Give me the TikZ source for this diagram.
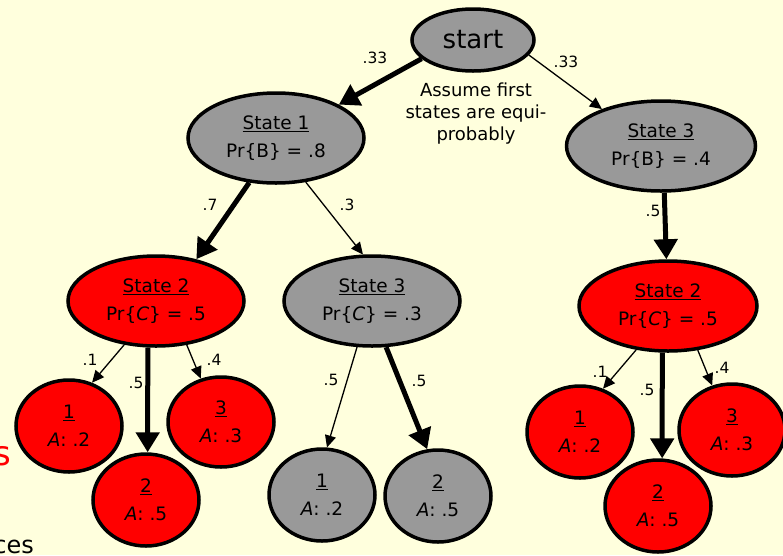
\documentclass[tikz,border=0pt]{standalone}
\usepackage{fontspec}
\setmainfont{DejaVu Sans}
\usetikzlibrary{arrows.meta,shapes.geometric}
\definecolor{bgc}{RGB}{255,255,221}
\definecolor{grayfill}{RGB}{153,153,153}
\definecolor{redfill}{RGB}{255,0,0}
\begin{document}
\begin{tikzpicture}[x=1pt,y=-1pt,
  ell/.style={ellipse,draw=black,line width=3.5pt,inner sep=0pt,align=center,
    font=\fontsize{18.5}{28}\selectfont},
  grey/.style={ell,fill=grayfill},
  redn/.style={ell,fill=redfill},
  bigstate/.style={minimum width=176pt,minimum height=90pt},
  leaf/.style={minimum width=106pt,minimum height=92pt},
  thickarr/.style={line width=5pt,-{Triangle[length=20pt,width=23pt]}},
  thinarr/.style={line width=1.3pt,-{Triangle[length=12pt,width=11pt]}},
  lbl/.style={font=\fontsize{15.5}{17}\selectfont,inner sep=0pt}]
\useasboundingbox (0,0) rectangle (783,555);
\clip (0,0) rectangle (783,555);
\fill[bgc] (0,0) rectangle (783,555);

% partial texts at the left edge
\node[anchor=base east,inner sep=0pt,text=redfill,font=\fontsize{34}{34}\selectfont] (redS) at (11,465) {s};
\node[anchor=base east,inner sep=0pt,font=\fontsize{24}{24}\selectfont] (ces) at (34,553) {ces};

% nodes
\node[grey,minimum width=122pt,minimum height=62pt,font=\fontsize{26}{30}\selectfont] (start) at (473,40) {start};
\node[grey,bigstate] (s1) at (276,138) {\underline{State 1}\\Pr\{B\} = .8};
\node[grey,bigstate,minimum width=189pt] (s3r) at (661,146) {\underline{State 3}\\Pr\{B\} = .4};
\node[redn,bigstate] (s2l) at (156,301) {\underline{State 2}\\Pr\{\textit{C}\} = .5};
\node[grey,bigstate] (s3m) at (372,301) {\underline{State 3}\\Pr\{\textit{C}\} = .3};
\node[redn,bigstate,minimum width=178pt] (s2r) at (668,306) {\underline{State 2}\\Pr\{\textit{C}\} = .5};

\node[redn,leaf] (l1) at (69,426) {\underline{1}\\\textit{A}: .2};
\node[redn,leaf] (l2) at (146,500) {\underline{2}\\\textit{A}: .5};
\node[redn,leaf,minimum height=90pt] (l3) at (221,422) {\underline{3}\\\textit{A}: .3};
\node[grey,leaf] (m1) at (322,495) {\underline{1}\\\textit{A}: .2};
\node[grey,leaf] (m2) at (438,496) {\underline{2}\\\textit{A}: .5};
\node[redn,leaf] (r1) at (580,432) {\underline{1}\\\textit{A}: .2};
\node[redn,leaf] (r2) at (658,506) {\underline{2}\\\textit{A}: .5};
\node[redn,leaf] (r3) at (732,430) {\underline{3}\\\textit{A}: .3};

\node[align=center,font=\fontsize{18}{22}\selectfont,inner sep=0pt] (note) at (476,114)
  {Assume first\\states are equi-\\probably};

% connectors
\draw[thickarr] (start.200) -- (s1.28);
\draw[thinarr] (start.345) -- (s3r.148);
\draw[thickarr] (s1.239) -- (s2l.46);
\draw[thinarr] (s1.304) -- (s3m.101);
\draw[thickarr] (s3r.274) -- (s2r.92);
\draw[thinarr] (s2l.234) -- (l1.62);
\draw[thickarr] (s2l.260) -- (l2.88);
\draw[thinarr] (s2l.305) -- (l3.115);
\draw[thinarr] (s3m.252) -- (m1.84);
\draw[thickarr] (s3m.287) -- (m2.103);
\draw[thinarr] (s2r.234) -- (r1.62);
\draw[thickarr] (s2r.263) -- (r2.85);
\draw[thinarr] (s2r.304) -- (r3.114);

% labels
\node[lbl] (a1) at (375,58) {.33};
\node[lbl] (a2) at (566,62) {.33};
\node[lbl] (a3) at (210,205) {.7};
\node[lbl] (a4) at (347,205) {.3};
\node[lbl] (a5) at (653,211) {.5};
\node[lbl] (a6) at (90,360) {.1};
\node[lbl] (a7) at (136,383) {.5};
\node[lbl] (a8) at (214,360) {.4};
\node[lbl] (a9) at (331,380) {.5};
\node[lbl] (a10) at (419,381) {.5};
\node[lbl] (a11) at (600,372) {.1};
\node[lbl] (a12) at (647,390) {.5};
\node[lbl] (a13) at (722,368) {.4};
\end{tikzpicture}
\end{document}
